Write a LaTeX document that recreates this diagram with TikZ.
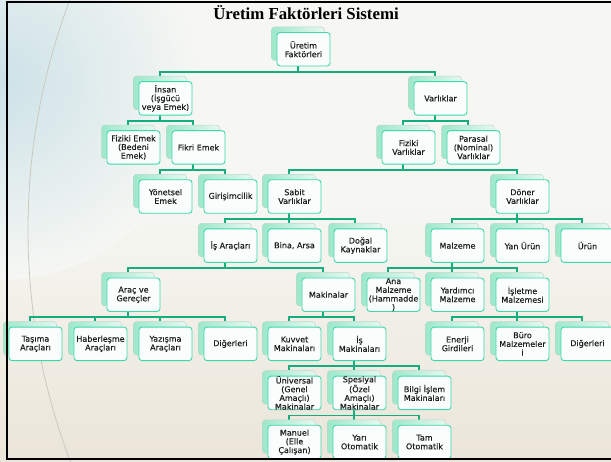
\documentclass[tikz,border=0pt]{standalone}
\usepackage{fontspec}
\setmainfont{DejaVu Sans}
\newfontfamily\boxfont[FakeBold=0.4]{DejaVu Sans}
\newfontfamily\titlefont{Liberation Serif}
\definecolor{conncol}{HTML}{14AE7E}
\definecolor{frontdraw}{HTML}{3DD8AC}
\definecolor{frontfill}{HTML}{F9FDFC}
\definecolor{backl}{HTML}{9DE8CB}
\definecolor{backr}{HTML}{E6F7F0}
\definecolor{backdraw}{HTML}{BCD8CC}
\definecolor{txtcol}{HTML}{1E1E1E}
\definecolor{bgbase}{HTML}{F6F7F3}
\definecolor{bgbeige}{HTML}{EBE5D9}
\definecolor{bgblue}{HTML}{CDE2E8}
\definecolor{arccol}{HTML}{C9C9C0}
\pgfdeclarelayer{bglayer}
\pgfdeclarelayer{connlayer}
\pgfdeclarelayer{fglayer}
\pgfsetlayers{bglayer,connlayer,main,fglayer}
\newcommand\mkbox[4]{%
  \node[backbox] (#1b) at ({#2+21},{32.5+49.1*#3+11.25}) {};
  \node[frontbox] (#1) at ({#2+26.5},{32.5+49.1*#3+16.75}) {#4};}
\begin{document}
\begin{tikzpicture}[x=1pt,y=-1pt,
  frontbox/.style={draw=frontdraw, fill=frontfill, line width=0.9pt, rounded corners=3pt,
    minimum width=53pt, minimum height=33.5pt, inner sep=0pt, align=center,
    font=\boxfont\fontsize{8}{8.7}\selectfont, text=txtcol},
  backbox/.style={draw=backdraw, left color=backl, right color=backr, line width=0.5pt,
    rounded corners=3pt, minimum width=53pt, minimum height=33.5pt, inner sep=0pt},
  conn/.style={draw=conncol, line width=1.7pt}]
\useasboundingbox (0,0) rectangle (611,462);

\begin{pgfonlayer}{bglayer}
  \fill[bgbase] (0,0) rectangle (611,462);
  \shade[top color=bgbase, bottom color=bgbeige] (0,200) rectangle (611,462);
  \shade[inner color=bgblue, outer color=bgbase] (0,80) circle (200);
  \begin{scope}
    \clip (0,0) rectangle (611,462);
    \draw[arccol, line width=0.8pt] (679,230) circle (651);
  \end{scope}
\end{pgfonlayer}

\node[font=\titlefont\bfseries\fontsize{16.8}{18}\selectfont, anchor=base, text=black] (title) at (306,19.5) {Üretim Faktörleri Sistemi};

% row 0
\mkbox{ure}{277}{0}{Üretim\\Faktörleri}
% row 1
\mkbox{ins}{139}{1}{İnsan\\(İşgücü\\veya Emek)}
\mkbox{var}{414}{1}{Varlıklar}
% row 2
\mkbox{fe}{107}{2}{Fiziki Emek\\(Bedeni\\Emek)}
\mkbox{fk}{172}{2}{Fikri Emek}
\mkbox{fv}{382}{2}{Fiziki\\Varlıklar}
\mkbox{par}{447}{2}{Parasal\\(Nominal)\\Varlıklar}
% row 3
\mkbox{yon}{139}{3}{Yönetsel\\Emek}
\mkbox{gir}{204}{3}{Girişimcilik}
\mkbox{sab}{268}{3}{Sabit\\Varlıklar}
\mkbox{don}{496}{3}{Döner\\Varlıklar}
% row 4
\mkbox{isa}{204}{4}{İş Araçları}
\mkbox{bin}{268}{4}{Bina, Arsa}
\mkbox{dog}{334}{4}{Doğal\\Kaynaklar}
\mkbox{mal}{431}{4}{Malzeme}
\mkbox{yan}{496}{4}{Yan Ürün}
\mkbox{uru}{561}{4}{Ürün}
% row 5
\mkbox{arc}{107}{5}{Araç ve\\Gereçler}
\mkbox{mak}{302}{5}{Makinalar}
\mkbox{ana}{367}{5}{Ana\\Malzeme\\(Hammadde\\)}
\mkbox{yar}{431}{5}{Yardımcı\\Malzeme}
\mkbox{isl}{496}{5}{İşletme\\Malzemesi}
% row 6
\mkbox{tas}{9}{6}{Taşıma\\Araçları}
\mkbox{hab}{74}{6}{Haberleşme\\Araçları}
\mkbox{yaz}{139}{6}{Yazışma\\Araçları}
\mkbox{diga}{204}{6}{Diğerleri}
\mkbox{kuv}{268}{6}{Kuvvet\\Makinaları}
\mkbox{ism}{333}{6}{İş\\Makinaları}
\mkbox{ene}{431}{6}{Enerji\\Girdileri}
\mkbox{bur}{496}{6}{Büro\\Malzemeler\\i}
\mkbox{digb}{561}{6}{Diğerleri}
% row 7
\mkbox{uni}{268}{7}{Üniversal\\(Genel\\Amaçlı)\\Makinalar}
\mkbox{spe}{333}{7}{Spesiyal\\(Özel\\Amaçlı)\\Makinalar}
\mkbox{bil}{398}{7}{Bilgi İşlem\\Makinaları}
% row 8
\mkbox{man}{268}{8}{Manuel\\(Elle\\Çalışan)}
\mkbox{yari}{333}{8}{Yarı\\Otomatik}
\mkbox{tam}{398}{8}{Tam\\Otomatik}

\begin{pgfonlayer}{connlayer}
  \foreach \p/\c in {ure/ins, ure/var, ins/fe, ins/fk, fk/yon, fk/gir,
      var/fv, var/par, fv/sab, fv/don, sab/isa, sab/bin, sab/dog,
      don/mal, don/yan, don/uru, isa/arc, isa/mak, mal/ana, mal/yar, mal/isl,
      arc/tas, arc/hab, arc/yaz, arc/diga, mak/kuv, mak/ism,
      isl/ene, isl/bur, isl/digb, ism/uni, ism/spe, ism/bil,
      spe/man, spe/yari, spe/tam}
    \draw[conn] (\p b.south) -- ++(0,11) -| (\c b.north);
\end{pgfonlayer}

\begin{pgfonlayer}{fglayer}
  \draw[black, line width=2.4pt] (616,2) -- (7,2) -- (7,459) -- (616,459);
\end{pgfonlayer}
\end{tikzpicture}
\end{document}
